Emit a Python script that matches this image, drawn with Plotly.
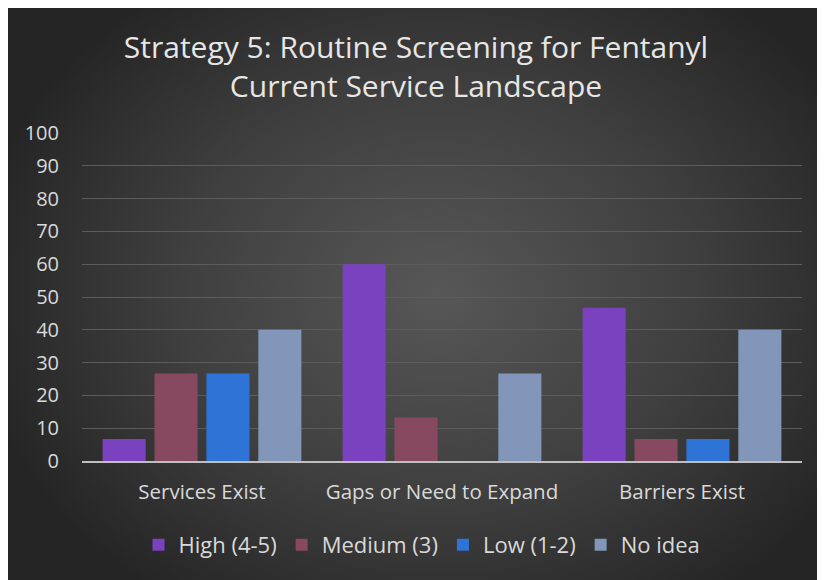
import base64
import plotly.graph_objects as go

categories = ["Services Exist", "Gaps or Need to Expand", "Barriers Exist"]
series_names = ["High (4-5)", "Medium (3)", "Low (1-2)", "No idea"]
high = [6.7, 60.0, 46.7]
medium = [26.7, 13.3, 6.7]
low = [26.7, 0.0, 6.7]
no_idea = [40.0, 26.7, 40.0]
y_ticks = [0, 10, 20, 30, 40, 50, 60, 70, 80, 90, 100]

colors = ["#7b42bf", "#86495f", "#2e73d6", "#8196b8"]

# the page body adds an 8px margin, so the figure is sized to fit the window
W, H = 817, 572
L, R, T, B = 74, 23, 125, 119
pw, ph = W - L - R, H - T - B

svg = (
    f'<svg xmlns="http://www.w3.org/2000/svg" width="{W}" height="{H}" '
    f'viewBox="0 0 {W} {H}" preserveAspectRatio="none">'
    '<defs><radialGradient id="g" gradientUnits="userSpaceOnUse" cx="430" cy="285" r="470" '
    'gradientTransform="translate(430 285) scale(1 0.8) translate(-430 -285)">'
    '<stop offset="0" stop-color="#575757"/><stop offset="0.55" stop-color="#3f3f3f"/>'
    '<stop offset="1" stop-color="#252525"/></radialGradient></defs>'
    f'<rect width="{W}" height="{H}" fill="url(#g)"/></svg>'
)
src = "data:image/svg+xml;base64," + base64.b64encode(svg.encode()).decode()

fig = go.Figure()
for name, vals, c in zip(series_names, [high, medium, low, no_idea], colors):
    fig.add_trace(go.Bar(
        x=categories, y=vals, name=name,
        marker=dict(color=c, line=dict(width=0)),
    ))

fig.add_layout_image(dict(
    source=src, xref="paper", yref="paper",
    x=-L / pw, y=1 + T / ph, sizex=W / pw, sizey=H / ph,
    xanchor="left", yanchor="top", sizing="stretch", layer="below",
))

fig.update_layout(
    width=W, height=H,
    margin=dict(l=L, r=R, t=T, b=B),
    paper_bgcolor="#2b2b2b",
    plot_bgcolor="rgba(0,0,0,0)",
    barmode="group", bargap=0.135, bargroupgap=0.17,
    font=dict(family="Open Sans, sans-serif", color="#d9d9d9", size=20),
    title=dict(
        text="Strategy 5: Routine Screening for Fentanyl<br>Current Service Landscape",
        x=408 / W, xref="container", xanchor="center",
        y=1 - 50 / H, yref="container", yanchor="middle",
        font=dict(family="Open Sans, sans-serif", size=30, color="#e6e6e6"),
    ),
    legend=dict(
        orientation="h", xref="container", yref="container",
        x=414 / W, xanchor="center", y=1 - 537 / H, yanchor="middle",
        font=dict(size=22, color="#d9d9d9"), bgcolor="rgba(0,0,0,0)",
        itemwidth=30, traceorder="normal",
    ),
    showlegend=True,
)
fig.update_xaxes(
    showgrid=False, showline=True, linecolor="#bfbfbf", linewidth=2,
    ticks="", tickfont=dict(size=20.5, color="#d9d9d9"), ticklabelstandoff=11,
)
fig.update_yaxes(
    range=[0, 100], tickvals=y_ticks, showgrid=True, gridcolor="#5c5c5c", gridwidth=1,
    zeroline=False, showline=False, ticks="",
    tickfont=dict(size=20, color="#d9d9d9"), ticklabelstandoff=22,
)

fig.write_html("out.html")
